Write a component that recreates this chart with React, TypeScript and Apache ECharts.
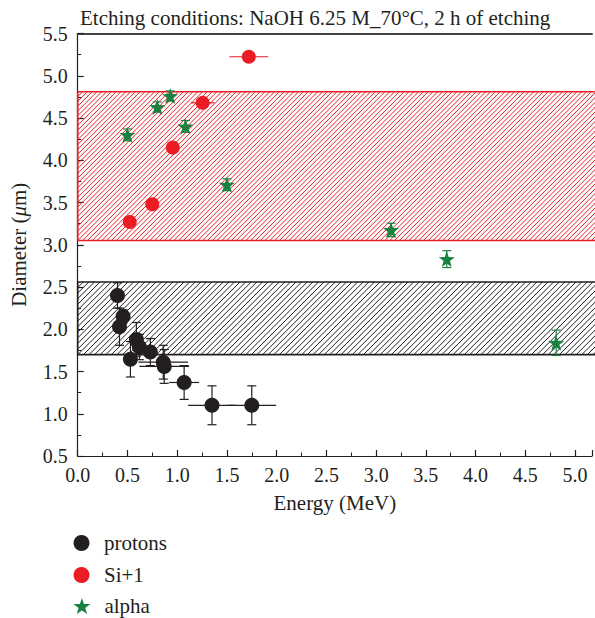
import React, { useEffect, useRef } from "react";
import * as echarts from "echarts";

const FONT = "'Liberation Serif', 'Times New Roman', serif";
const INK = "#231f20";
const RED = "#ec1c24";
const GREEN = "#1a8241";

const titleText = "Etching conditions: NaOH 6.25 M_70°C, 2 h of etching";
const xTicks = [0, 0.5, 1, 1.5, 2, 2.5, 3, 3.5, 4, 4.5, 5];
const yTicks = [0.5, 1, 1.5, 2, 2.5, 3, 3.5, 4, 4.5, 5, 5.5];

// Bands (diameter ranges)
const bandLow = [3.05, 1.7];
const bandHigh = [4.81, 2.56];
const bandColors = [RED, INK];
const bandSpacing = [4.8, 5.6];

// protons
const protonsEnergy = [0.4, 0.456, 0.42, 0.53, 0.59, 0.62, 0.73, 0.86, 0.87, 1.07, 1.35, 1.75];
const protonsDiameter = [2.4, 2.15, 2.03, 1.645, 1.88, 1.79, 1.73, 1.61, 1.56, 1.37, 1.1, 1.1];
const protonsEnergyErr = [0, 0, 0, 0, 0, 0, 0.06, 0.25, 0.25, 0.15, 0.24, 0.245];
const protonsDiameterErr = [0.15, 0.08, 0.22, 0.21, 0.2, 0.15, 0.16, 0.2, 0.2, 0.2, 0.23, 0.23];

// Si+1
const siEnergy = [0.523, 0.75, 0.956, 1.256, 1.72];
const siDiameter = [3.27, 3.48, 4.15, 4.68, 5.225];
const siEnergyErr = [0, 0, 0, 0.12, 0.195];
const siDiameterErr = [0, 0, 0, 0, 0];

// alpha
const alphaEnergy = [0.5, 0.8, 0.93, 1.083, 1.5, 3.15, 3.71, 4.81];
const alphaDiameter = [4.3, 4.63, 4.76, 4.4, 3.71, 3.175, 2.83, 1.84];
const alphaEnergyErr = [0, 0, 0, 0, 0, 0, 0, 0];
const alphaDiameterErr = [0.07, 0.06, 0.06, 0.07, 0.07, 0.08, 0.1, 0.15];

const legendNames = ["protons", "Si+1", "alpha"];
const legendTops = [532, 564, 595];

const STAR =
  "path://M0,-10L2.35,-3.24L9.51,-3.09L3.8,1.24L5.88,8.09L0,4L-5.88,8.09L-3.8,1.24L-9.51,-3.09L-2.35,-3.24Z";
const legendIcons = ["circle", "circle", STAR];

const X_MAX = 5.17;

function zip(...arrs: number[][]) {
  return arrs[0].map((_, i) => arrs.map((a) => a[i]));
}

function errorSeries(name: string, color: string, ex: number[], ey: number[], xe: number[], ye: number[]) {
  return {
    type: "custom",
    name: name + "_err",
    z: 2,
    silent: true,
    data: zip(ex, ey, xe, ye),
    renderItem: (params: any, api: any) => {
      const x = api.value(0);
      const y = api.value(1);
      const dx = api.value(2);
      const dy = api.value(3);
      const children: any[] = [];
      const st = { stroke: color, lineWidth: 1.2 };
      const cap = 4.5;
      if (dy > 0) {
        const t = api.coord([x, y + dy]);
        const b = api.coord([x, y - dy]);
        children.push({ type: "line", shape: { x1: t[0], y1: t[1], x2: b[0], y2: b[1] }, style: st });
        children.push({ type: "line", shape: { x1: t[0] - cap, y1: t[1], x2: t[0] + cap, y2: t[1] }, style: st });
        children.push({ type: "line", shape: { x1: b[0] - cap, y1: b[1], x2: b[0] + cap, y2: b[1] }, style: st });
      }
      if (dx > 0) {
        const l = api.coord([x - dx, y]);
        const r = api.coord([x + dx, y]);
        children.push({ type: "line", shape: { x1: l[0], y1: l[1], x2: r[0], y2: r[1] }, style: st });
      }
      return { type: "group", children };
    },
  };
}

export default function App() {
  const ref = useRef<HTMLDivElement>(null);
  useEffect(() => {
    if (!ref.current) return;
    const chart = echarts.init(ref.current, null, { renderer: "svg" });
    const tickText = { fontSize: 20, fontFamily: FONT, color: INK };
    const nameText = { fontSize: 21, fontFamily: FONT, color: INK };
    const option: any = {
      animation: false,
      backgroundColor: "#fff",
      title: {
        text: titleText,
        left: 75,
        top: 2,
        textStyle: { fontSize: 21, fontWeight: "normal", fontFamily: FONT, color: INK },
      },
      grid: { left: 77.7, right: 0, top: 33.5, bottom: 162 },
      legend: legendNames.map((n, i) => ({
        orient: "vertical",
        left: 73.5,
        top: legendTops[i],
        padding: 0,
        itemWidth: 23,
        itemHeight: 16,
        textStyle: { ...nameText, lineHeight: 22, padding: [0, 0, 0, 6] },
        data: [{ name: n, icon: legendIcons[i] }],
      })),
      xAxis: [
        {
          type: "value",
          min: 0,
          max: X_MAX,
          interval: 0.5,
          position: "bottom",
          axisLine: { show: true, onZero: false, lineStyle: { color: INK, width: 1.2 } },
          axisTick: { show: true, inside: true, length: 6, lineStyle: { color: INK, width: 1.2 } },
          minorTick: { show: true, splitNumber: 2, length: 3.5, lineStyle: { color: INK, width: 1 } },
          splitLine: { show: false },
          axisLabel: {
            ...tickText,
            margin: 9,
            formatter: (v: number) =>
              xTicks.some((t) => Math.abs(t - v) < 1e-6) ? v.toFixed(1) : "",
          },
          name: "Energy (MeV)",
          nameLocation: "middle",
          nameGap: 36,
          nameTextStyle: { ...nameText },
        },
        {
          type: "value",
          min: 0,
          max: X_MAX,
          position: "top",
          axisLine: { show: true, onZero: false, lineStyle: { color: "#444", width: 2 } },
          axisTick: { show: false },
          axisLabel: { show: false },
          splitLine: { show: false },
        },
      ],
      yAxis: {
        type: "value",
        min: 0.5,
        max: 5.5,
        interval: 0.5,
        axisLine: { show: true, onZero: false, lineStyle: { color: INK, width: 1.2 } },
        axisTick: { show: true, inside: true, length: 6, lineStyle: { color: INK, width: 1.2 } },
        minorTick: { show: true, splitNumber: 2, length: 3.5, lineStyle: { color: INK, width: 1 } },
        splitLine: { show: false },
        axisLabel: {
          ...tickText,
          margin: 10,
          formatter: (v: number) =>
            yTicks.some((t) => Math.abs(t - v) < 1e-6) ? v.toFixed(1) : "",
        },
        name: "{a|Diameter (}{i|μ}{a|m)}",
        nameLocation: "middle",
        nameGap: 48,
        nameTextStyle: {
          ...nameText,
          rich: {
            a: { ...nameText },
            i: { ...nameText, fontStyle: "italic" },
          },
        },
      },
      series: [
        {
          type: "custom",
          name: "bands",
          z: 1,
          silent: true,
          data: bandLow.map((lo, i) => [0, lo, bandHigh[i], i]),
          renderItem: (params: any, api: any) => {
            const lo = api.value(1);
            const hi = api.value(2);
            const idx = api.value(3);
            const cs = params.coordSys;
            const x0 = cs.x;
            const x1 = cs.x + cs.width + 4;
            const y0 = api.coord([0, hi])[1];
            const y1 = api.coord([0, lo])[1];
            const color = bandColors[idx];
            const sp = bandSpacing[idx];
            const children: any[] = [];
            // hatch lines going up-right: x + y = c
            for (let c = x0 + y0 + sp; c < x1 + y1; c += sp) {
              const xa = Math.max(x0, c - y1);
              const xb = Math.min(x1, c - y0);
              if (xb <= xa) continue;
              children.push({
                type: "line",
                shape: { x1: xa, y1: c - xa, x2: xb, y2: c - xb },
                style: { stroke: color, lineWidth: 1 },
              });
            }
            children.push({
              type: "rect",
              shape: { x: x0, y: y0, width: x1 - x0, height: y1 - y0 },
              style: { fill: "none", stroke: color, lineWidth: 1.6 },
            });
            return { type: "group", children };
          },
        },
        errorSeries("protons", INK, protonsEnergy, protonsDiameter, protonsEnergyErr, protonsDiameterErr),
        errorSeries("Si+1", RED, siEnergy, siDiameter, siEnergyErr, siDiameterErr),
        errorSeries("alpha", GREEN, alphaEnergy, alphaDiameter, alphaEnergyErr, alphaDiameterErr),
        {
          type: "scatter",
          name: "protons",
          z: 3,
          symbol: "circle",
          symbolSize: 15,
          itemStyle: { color: INK, opacity: 1 },
          data: zip(protonsEnergy, protonsDiameter),
        },
        {
          type: "scatter",
          name: "Si+1",
          z: 3,
          symbol: "circle",
          symbolSize: 14,
          itemStyle: { color: RED, opacity: 1 },
          data: zip(siEnergy, siDiameter),
        },
        {
          type: "scatter",
          name: "alpha",
          z: 4,
          symbol: STAR,
          symbolSize: 16,
          itemStyle: { color: GREEN, opacity: 1 },
          data: zip(alphaEnergy, alphaDiameter),
        },
      ],
    };
    chart.setOption(option);
    return () => chart.dispose();
  }, []);
  return <div ref={ref} style={{ width: 595, height: 618, position: "absolute", left: 0, top: 0 }} />;
}
